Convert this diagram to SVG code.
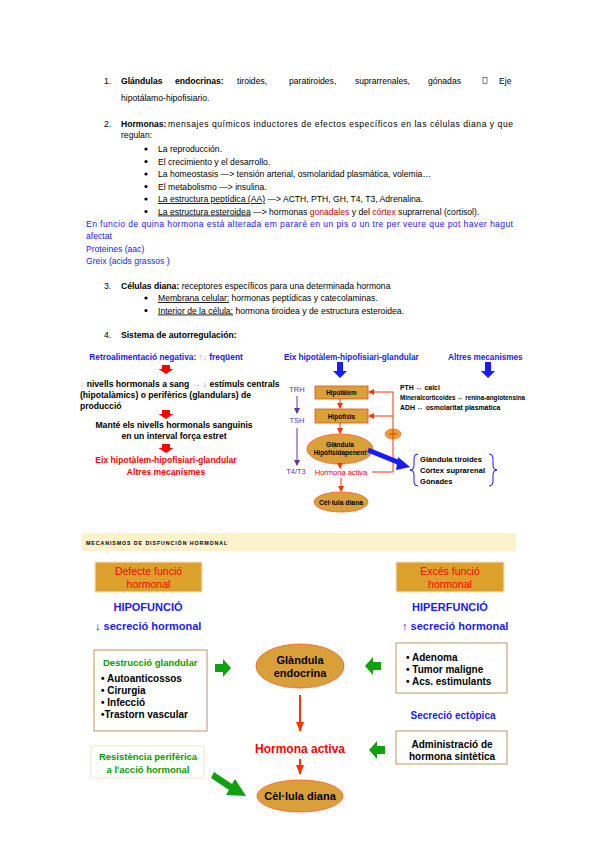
<svg xmlns="http://www.w3.org/2000/svg" width="600" height="848" viewBox="0 0 600 848">
<style>
text{font-family:"Liberation Sans",Arial,sans-serif;fill:#000}
.t{font-size:8.6px}
.b{font-weight:bold}
.blue{fill:#1a1aff}
.red{fill:#ff0000}
.dred{fill:#c00000}
.green{fill:#00a000}
.purple{fill:#6633aa}
.u{text-decoration:underline}
.m{text-anchor:middle}
.box{fill:#dba134;stroke:#e05020;stroke-width:0.8}
.ell{fill:#d9a03a;stroke:#ff5522;stroke-width:0.8}
.wbox{fill:#fff;stroke:#c8a878;stroke-width:1.2}
.gbox{fill:#dca12d;stroke:#f3e2c0;stroke-width:1.2}
.fb{fill:none;stroke:#ff3300;stroke-width:1}
</style>
<defs>
<marker id="ar" markerWidth="6" markerHeight="6" refX="5" refY="3" orient="auto" markerUnits="userSpaceOnUse"><path d="M0,0 L6,3 L0,6 z" fill="#ff3300"/></marker>
<marker id="ap" markerWidth="6" markerHeight="6" refX="5" refY="3" orient="auto" markerUnits="userSpaceOnUse"><path d="M0,0 L6,3 L0,6 z" fill="#6633aa"/></marker>
<marker id="ar2" markerWidth="10" markerHeight="8" refX="9" refY="4" orient="auto" markerUnits="userSpaceOnUse"><path d="M0,0 L10,4 L0,8 z" fill="#ff3300"/></marker>
<path id="rdown" d="M-4,0 h8 v4 h3.5 l-7.5,5 l-7.5,-5 h3.5 z" fill="#ff0000"/>
<path id="bdown" d="M-3,0 h6 v9 h4 l-7,7 l-7,-7 h4 z" fill="#1a1aff"/>
<path id="gright" d="M0,-4 h8 v-5 l8,9 l-8,9 v-5 h-8 z" fill="#10a010"/>
<path id="gleft" d="M0,-4 h-8 v-5 l-8,9 l8,9 v-5 h8 z" fill="#10a010"/>
</defs>

<g id="text-top">
<text class="t" x="104" y="84">1.</text>
<text class="t b" x="121" y="84">Glándulas</text>
<text class="t b" x="175" y="84">endocrinas:</text>
<text class="t" x="237" y="84">tiroides,</text>
<text class="t" x="289" y="84">paratiroides,</text>
<text class="t" x="355" y="84">suprarrenales,</text>
<text class="t" x="428" y="84">gónadas</text>
<rect x="483" y="77.5" width="4" height="6" fill="none" stroke="#000" stroke-width="0.5"/>
<text class="t" x="499" y="84">Eje</text>
<text class="t" x="121" y="101">hipotálamo-hipofisiario.</text>

<text class="t" x="104" y="127">2.</text>
<text class="t b" x="121" y="127">Hormonas:</text>
<text class="t" x="168" y="127" textLength="345" lengthAdjust="spacing">mensajes químicos inductores de efectos específicos en las células diana y que</text>
<text class="t" x="121" y="138">regulan:</text>
<g class="t">
<circle cx="146" cy="149" r="1.6"/><text x="158" y="152">La reproducción.</text>
<circle cx="146" cy="161.5" r="1.6"/><text x="158" y="164.5">El crecimiento y el desarrollo.</text>
<circle cx="146" cy="174" r="1.6"/><text x="158" y="177">La homeostasis —&gt; tensión arterial, osmolaridad plasmática, volemia…</text>
<circle cx="146" cy="186.5" r="1.6"/><text x="158" y="189.5">El metabolismo —&gt; insulina.</text>
<circle cx="146" cy="199" r="1.6"/><text x="158" y="202"><tspan class="u">La estructura peptídica (AA)</tspan> —&gt; ACTH, PTH, GH, T4, T3, Adrenalina.</text>
<circle cx="146" cy="211.5" r="1.6"/><text x="158" y="214.5"><tspan class="u">La estructura esteroidea</tspan> —&gt; hormonas <tspan class="dred">gonadales</tspan> y del <tspan class="dred">córtex</tspan> suprarrenal (cortisol).</text>
</g>
<text class="t blue" x="86" y="227" textLength="427" lengthAdjust="spacing">En funcio de quina hormona está alterada em pararé en un pis o un tre per veure que pot haver hagut</text>
<text class="t blue" x="86" y="239">afectat</text>
<text class="t blue" x="86" y="252">Proteines (aac)</text>
<text class="t blue" x="86" y="264">Greix (acids grassos )</text>

<text class="t" x="104" y="289">3.</text>
<text class="t" x="121" y="289"><tspan class="b">Células diana:</tspan> receptores específicos para una determinada hormona</text>
<g class="t">
<circle cx="146" cy="298" r="1.6"/><text x="158" y="301">
<tspan class="u">Membrana celular:</tspan> hormonas peptídicas y catecolaminas.</text>
<circle cx="146" cy="310.5" r="1.6"/><text x="158" y="313.5"><tspan class="u">Interior de la célula:</tspan> hormona tiroidea y de estructura esteroidea.</text>
</g>
<text class="t" x="104" y="338">4.</text>
<text class="t b" x="121" y="338">Sistema de autorregulación:</text>
</g>

<g id="left-feedback">
<text class="b blue m" x="166" y="360" font-size="8.4">Retroalimentació negativa: <tspan fill="#cc88ff">↑↓</tspan> freqüent</text>
<use href="#rdown" x="166" y="365"/>
<text class="b" x="80" y="387" font-size="8.6"><tspan fill="#d4a070">↓</tspan> nivells hormonals a sang  <tspan fill="#aaaaaa">→</tspan> <tspan fill="#6688ff">↓</tspan> estímuls centrals</text>
<text class="b" x="80" y="398" font-size="8.6">(hipotalàmics) o perifèrics (glandulars) de</text>
<text class="b" x="80" y="409" font-size="8.6">producció</text>
<use href="#rdown" x="166" y="410"/>
<text class="b m" x="174" y="428" font-size="8.6">Manté els nivells hormonals sanguinis</text>
<text class="b m" x="174" y="439" font-size="8.6">en un interval força estret</text>
<use href="#rdown" x="166" y="444"/>
<text class="b red m" x="166" y="463" font-size="8.6">Eix hipotàlem-hipofisiari-glandular</text>
<text class="b red m" x="166" y="475" font-size="8.6">Altres mecanismes</text>
</g>

<g id="axis">
<text class="b blue" x="284" y="360" font-size="8.2">Eix hipotàlem-hipofisiari-glandular</text>
<use href="#bdown" x="340" y="362"/>
<text class="b blue" x="448" y="360" font-size="8.2">Altres mecanismes</text>
<use href="#bdown" x="488" y="362"/>

<text class="purple" x="297" y="392" font-size="7.5" text-anchor="middle">TRH</text>
<text class="purple" x="297" y="423" font-size="7.5" text-anchor="middle">TSH</text>
<text class="purple" x="296" y="474" font-size="7.5" text-anchor="middle">T4/T3</text>

<g id="n-hipotalem"><rect class="box" x="315" y="386" width="53" height="13"/><text class="b m" x="341.5" y="395" font-size="6.3">Hipotàlem</text></g>
<g id="n-hipofisis"><rect class="box" x="315" y="409" width="53" height="14"/><text class="b m" x="341.5" y="418.5" font-size="6.5">Hipòfisis</text></g>
<g id="n-glandula"><ellipse class="ell" cx="340" cy="449" rx="33" ry="15"/><text class="b m" x="340" y="447" font-size="6.5">Glàndula</text><text class="b m" x="340" y="455" font-size="6.5">Hipòfisidapenent</text></g>
<g id="n-hormona"><text class="red m" x="341" y="475" font-size="7.5">Hormona activa</text></g>
<g id="n-cellula"><ellipse class="ell" cx="341" cy="502" rx="27" ry="10"/><text class="b m" x="341" y="504.5" font-size="6.8">Cèl·lula diana</text></g>
<g id="n-minus"><ellipse fill="#e8a030" stroke="#ff5522" stroke-width="0.6" cx="393" cy="434" rx="8" ry="5"/><line x1="389" y1="434" x2="397" y2="434" stroke="#cc3300" stroke-width="0.8"/></g>

<g id="n-others">
<text class="b" x="400" y="390" font-size="6.9">PTH ↔ calci</text>
<text class="b" x="400" y="400" font-size="6.9" textLength="125" lengthAdjust="spacingAndGlyphs">Mineralcorticoides ↔ renina-angiotensina</text>
<text class="b" x="400" y="410" font-size="6.9">ADH ↔ osmolaritat plasmàtica</text>
</g>
<g id="n-targets">
<path d="M418,454 q-4,0 -4,4 v8 q0,4 -4,4 q4,0 4,4 v8 q0,4 4,4" fill="none" stroke="#1a1aff" stroke-width="1"/>
<path d="M489,454 q4,0 4,4 v8 q0,4 4,4 q-4,0 -4,4 v8 q0,4 -4,4" fill="none" stroke="#1a1aff" stroke-width="1"/>
<text class="b" x="420" y="462" font-size="7.6">Glàndula tiroides</text>
<text class="b" x="420" y="473" font-size="7.6">Còrtex suprarenal</text>
<text class="b" x="420" y="484" font-size="7.6">Gònades</text>
</g>
</g>

<g id="axis-connectors">
<line x1="297" y1="396" x2="297" y2="413" stroke="#6633aa" stroke-width="1" marker-end="url(#ap)"/>
<line x1="297" y1="428" x2="297" y2="465" stroke="#6633aa" stroke-width="1" marker-end="url(#ap)"/>
<line class="fb" x1="340" y1="399" x2="340" y2="408" marker-end="url(#ar)"/>
<line class="fb" x1="340" y1="423" x2="340" y2="433" marker-end="url(#ar)"/>
<line class="fb" x1="340" y1="464" x2="340" y2="468" marker-end="url(#ar)"/>
<line class="fb" x1="341" y1="478" x2="341" y2="491" marker-end="url(#ar)"/>
<polyline class="fb" points="372,472 393,472 393,392 369,392" marker-end="url(#ar)"/>
<line class="fb" x1="393" y1="416" x2="369" y2="416" marker-end="url(#ar)"/>
<path d="M368,450 L400,463" stroke="#1a1aff" stroke-width="5" fill="none"/>
<path d="M398,457 L410,467 L396,470 z" fill="#1a1aff"/>
</g>

<g id="dysfunction">
<rect x="82" y="533" width="434" height="18" fill="#fdf2cc"/>
<text x="86" y="545" font-size="5.3" font-weight="bold" letter-spacing="0.9">MECANISMOS DE DISFUNCIÓN HORMONAL</text>

<g id="n-defecte"><rect class="gbox" x="95" y="562" width="107" height="30"/><text class="red m" x="148.5" y="575" font-size="10.5">Defecte funció</text><text class="red m" x="148.5" y="588" font-size="10.5">hormonal</text></g>
<g id="n-exces"><rect class="gbox" x="396" y="562" width="108" height="30"/><text class="red m" x="450" y="575" font-size="10.5">Excés funció</text><text class="red m" x="450" y="588" font-size="10.5">hormonal</text></g>
<text class="b blue m" x="148" y="611" font-size="11">HIPOFUNCIÓ</text>
<text class="b blue" x="95" y="630" font-size="11">↓ secreció hormonal</text>
<text class="b blue m" x="450" y="611" font-size="11">HIPERFUNCIÓ</text>
<text class="b blue" x="402" y="630" font-size="11">↑ secreció hormonal</text>

<g id="n-destruccio"><rect class="wbox" x="94" y="650" width="113" height="81"/>
<text class="b green" x="103" y="666" font-size="9.5">Destrucció glandular</text>
<text class="b" x="101" y="682" font-size="10">• Autoanticossos</text>
<text class="b" x="101" y="694" font-size="10">• Cirurgia</text>
<text class="b" x="101" y="706" font-size="10">• Infecció</text>
<text class="b" x="101" y="718" font-size="10">•Trastorn vascular</text></g>

<g id="n-endocrina"><ellipse class="ell" cx="300" cy="666" rx="44" ry="22"/><text class="b m" x="300" y="664" font-size="11">Glàndula</text><text class="b m" x="300" y="677" font-size="11">endocrina</text></g>

<g id="n-adenoma"><rect class="wbox" x="396" y="643" width="111" height="50"/>
<text class="b" x="406" y="661" font-size="10">• Adenoma</text>
<text class="b" x="406" y="673" font-size="10">• Tumor maligne</text>
<text class="b" x="406" y="685" font-size="10">• Acs. estimulants</text></g>

<text class="b blue m" x="453" y="719" font-size="10">Secreció ectòpica</text>

<g id="n-hactiva"><text class="b red m" x="300" y="753" font-size="12">Hormona activa</text></g>
<g id="n-admin"><rect class="wbox" x="396" y="731" width="111" height="33"/><text class="b m" x="452" y="748" font-size="10">Administració de</text><text class="b m" x="452" y="760" font-size="10">hormona sintètica</text></g>
<g id="n-resist"><rect fill="#fff" stroke="#f0e4d0" stroke-width="1" x="91" y="746" width="113" height="32"/><text class="b green m" x="148" y="760" font-size="9.5">Resistència perifèrica</text><text class="b green m" x="148" y="773" font-size="9.5">a l'acció hormonal</text></g>
<g id="n-diana"><ellipse class="ell" cx="300" cy="796" rx="43" ry="16"/><text class="b m" x="300" y="800" font-size="11">Cèl·lula diana</text></g>
</g>

<g id="dys-connectors">
<use href="#gright" x="215" y="668"/>
<use href="#gleft" x="381" y="666"/>
<use href="#gleft" x="385" y="750"/>
<line x1="300" y1="695" x2="300" y2="731" stroke="#ff3300" stroke-width="2" marker-end="url(#ar2)"/>
<line x1="300" y1="759" x2="300" y2="774" stroke="#ff3300" stroke-width="2" marker-end="url(#ar2)"/>
<path d="M214,772 L232,784 L235,779 L246,796 L226,795 L229,790 L211,778 z" fill="#10a010"/>
</g>
</svg>
